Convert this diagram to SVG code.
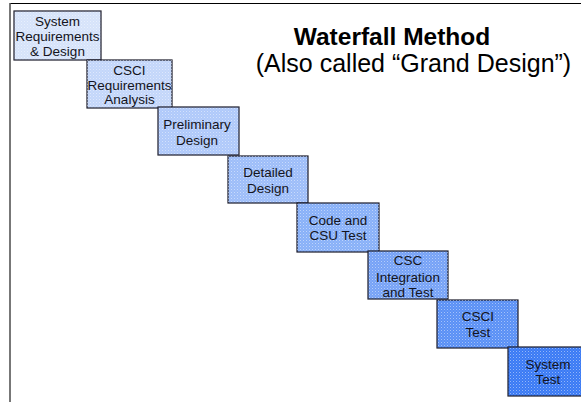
<svg xmlns="http://www.w3.org/2000/svg" width="581" height="402" viewBox="0 0 581 402">
<defs>
<pattern id="dots" width="3" height="3" patternUnits="userSpaceOnUse">
<rect x="0" y="0" width="1" height="1" fill="#ffffff" fill-opacity="0.45"/>
<rect x="1.5" y="1.5" width="1" height="1" fill="#ffffff" fill-opacity="0.25"/>
</pattern>
</defs>
<style>
.box{stroke:#1a1a28;stroke-width:1.2}
.tex{fill:url(#dots);stroke:none}
.lbl{font-family:"Liberation Sans",Arial,sans-serif;font-size:13.5px;fill:#141420;text-anchor:middle}
.title{font-family:"Liberation Sans",Arial,sans-serif;font-size:24.5px;font-weight:bold;fill:#000;text-anchor:middle}
.sub{font-family:"Liberation Sans",Arial,sans-serif;font-size:25px;fill:#000;text-anchor:middle}
</style>
<rect width="581" height="402" fill="#ffffff"/>
<g id="frame">
<line x1="10" y1="3.5" x2="581" y2="3.5" stroke="#000" stroke-width="1.2"/>
<line x1="10" y1="3" x2="10" y2="402" stroke="#555" stroke-width="1.6"/>
</g>
<g id="title">
<text class="title" x="392" y="45">Waterfall Method</text>
<text class="sub" x="413.5" y="72">(Also called “Grand Design”)</text>
</g>
<g id="connectors"></g>
<g id="n1">
<rect class="box" x="14" y="11" width="87" height="49" fill="#d6e3fa"/>
<rect class="tex" x="14" y="11" width="87" height="49"/>
<text class="lbl" x="57.5" y="26">System</text>
<text class="lbl" x="57.5" y="41">Requirements</text>
<text class="lbl" x="57.5" y="56">&amp; Design</text>
</g>
<g id="n2">
<rect class="box" x="87" y="60" width="85" height="48" fill="#c3d6fa"/>
<rect class="tex" x="87" y="60" width="85" height="48"/>
<text class="lbl" x="129.5" y="75">CSCI</text>
<text class="lbl" x="129.5" y="89.5">Requirements</text>
<text class="lbl" x="129.5" y="104">Analysis</text>
</g>
<g id="n3">
<rect class="box" x="158" y="107" width="81" height="48" fill="#afc9fa"/>
<rect class="tex" x="158" y="107" width="81" height="48"/>
<text class="lbl" x="197" y="129">Preliminary</text>
<text class="lbl" x="197" y="145">Design</text>
</g>
<g id="n4">
<rect class="box" x="228" y="156" width="80" height="47" fill="#9dbdf9"/>
<rect class="tex" x="228" y="156" width="80" height="47"/>
<text class="lbl" x="268" y="177">Detailed</text>
<text class="lbl" x="268" y="193">Design</text>
</g>
<g id="n5">
<rect class="box" x="297" y="203" width="82" height="49" fill="#88b0f8"/>
<rect class="tex" x="297" y="203" width="82" height="49"/>
<text class="lbl" x="338" y="225">Code and</text>
<text class="lbl" x="338" y="240">CSU Test</text>
</g>
<g id="n6">
<rect class="box" x="368" y="251" width="80" height="48" fill="#76a2f6"/>
<rect class="tex" x="368" y="251" width="80" height="48"/>
<text class="lbl" x="408" y="265">CSC</text>
<text class="lbl" x="408" y="281.5">Integration</text>
<text class="lbl" x="408" y="297">and Test</text>
</g>
<g id="n7">
<rect class="box" x="437" y="300" width="81" height="48" fill="#5a90f5"/>
<rect class="tex" x="437" y="300" width="81" height="48"/>
<text class="lbl" x="478" y="321">CSCI</text>
<text class="lbl" x="478" y="337">Test</text>
</g>
<g id="n8">
<rect class="box" x="508" y="347" width="76" height="49" fill="#3a7af4"/>
<rect class="tex" x="508" y="347" width="76" height="49"/>
<text class="lbl" x="548" y="369">System</text>
<text class="lbl" x="548" y="384">Test</text>
</g>
</svg>
